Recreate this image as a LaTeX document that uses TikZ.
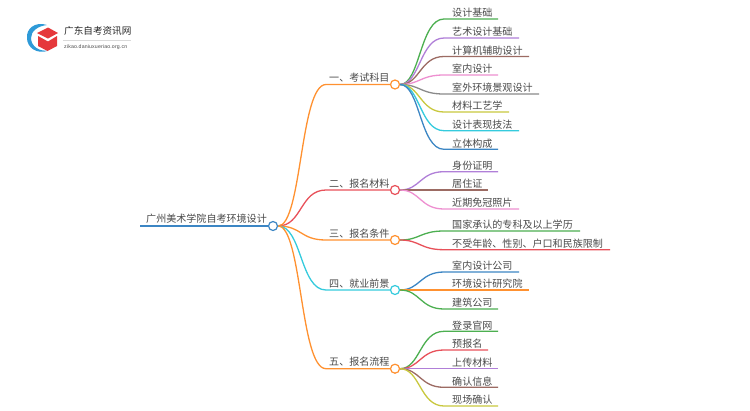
\documentclass[tikz,border=0pt]{standalone}
\usepackage{fontspec}
\setmainfont{Noto Sans CJK SC}
\newfontfamily\latinf[LetterSpace=3]{Liberation Sans}
\definecolor{cgreen}{HTML}{4CAF50}
\definecolor{cpurple}{HTML}{B07FD8}
\definecolor{cbrown}{HTML}{9C6B63}
\definecolor{cpink}{HTML}{EE8FD0}
\definecolor{cgray}{HTML}{8A8A8A}
\definecolor{colive}{HTML}{C9C83E}
\definecolor{ccyan}{HTML}{35CBDD}
\definecolor{cblue}{HTML}{3C86C4}
\definecolor{corange}{HTML}{FF9130}
\definecolor{cred}{HTML}{E8515A}
\definecolor{ctext}{HTML}{4A4A4A}
\definecolor{clogob}{HTML}{2E9AD8}
\definecolor{clogor}{HTML}{E5383B}
\tikzset{
  x=1pt,y=-1pt,
  wire/.style={line width=1.3pt},
  hub/.style={circle,draw=#1,line width=1.2pt,fill=white,inner sep=0pt,minimum size=9pt},
  lab/.style={anchor=base west,inner sep=0pt,text=ctext,font=\fontsize{10.05}{12}\selectfont},
}
% hub, name, hub y, leaf y, end x, colour, text
\newcommand{\leafitem}[7]{%
  \coordinate (#2e) at (#5,#4);
  \node[lab] (#2) at (452,#4-2.3) {#7};
  \draw[wire,#6] (#1.east) .. controls (420,#3) and (420,#4) .. (444,#4) -- (#2e);
}
% name, y, colour, text
\newcommand{\branchitem}[4]{%
  \node[hub=#3] (#1) at (395,#2) {};
  \node[lab] (#1t) at (329,#2-3) {#4};
  \draw[wire,#3] (root.east) .. controls (302,226) and (300,#2) .. (326,#2) -- (#1.west);
}
\begin{document}
\begin{tikzpicture}
\useasboundingbox (0,0) rectangle (750,410);
\fill[white] (0,0) rectangle (750,410);
% logo
\fill[clogob] (47,25) .. controls (35,21) and (26,29) .. (27,38) .. controls (27,47) and (36,55) .. (49,50.5)
  .. controls (39,52) and (31,46) .. (31,38) .. controls (31,31) and (38,26) .. (47,25) -- cycle;
\fill[clogor] (48,27.5) -- (58,33) -- (48,38.5) -- (37,33) -- cycle;
\fill[clogor] (38,36) -- (48,41.5) -- (57,36) -- (57,46) -- (47.5,51) -- (38,46) -- cycle;
\node[anchor=base west,inner sep=0pt,text=black!85,font=\fontsize{9.6}{11}\selectfont] (brand) at (64,34.5) {广东自考资讯网};
\draw[black!15,line width=0.5pt] (63,40.5) -- (131,40.5);
\node[anchor=base west,inner sep=0pt,text=black!70,font=\latinf\fontsize{5.2}{6}\selectfont] (site) at (64,48) {zikao.daniuxueriao.org.cn};
% root
\node[hub=cblue] (root) at (273,226) {};
\coordinate (rootw) at (140,226);
\node[lab] (roott) at (146,222.8) {广州美术学院自考环境设计};
\draw[wire,cblue] (rootw) -- (root.west);
% level 1
\branchitem{a}{84.5}{corange}{一、考试科目}
\branchitem{b}{190}{cred}{二、报名材料}
\branchitem{c}{240}{corange}{三、报名条件}
\branchitem{d}{290}{ccyan}{四、就业前景}
\branchitem{e}{368.7}{corange}{五、报名流程}
% leaves
\leafitem{a}{a1}{84.5}{19}{498}{cgreen}{设计基础}
\leafitem{a}{a2}{84.5}{38}{519}{cpurple}{艺术设计基础}
\leafitem{a}{a3}{84.5}{56.5}{529}{cbrown}{计算机辅助设计}
\leafitem{a}{a4}{84.5}{75}{498}{cpink}{室内设计}
\leafitem{a}{a5}{84.5}{94}{539}{cgray}{室外环境景观设计}
\leafitem{a}{a6}{84.5}{112}{509}{colive}{材料工艺学}
\leafitem{a}{a7}{84.5}{130.7}{519}{ccyan}{设计表现技法}
\leafitem{a}{a8}{84.5}{149.3}{498}{cblue}{立体构成}
\leafitem{b}{b1}{190}{171.7}{498}{cpurple}{身份证明}
\leafitem{b}{b2}{190}{190}{488}{cbrown}{居住证}
\leafitem{b}{b3}{190}{209}{519}{cpink}{近期免冠照片}
\leafitem{c}{c1}{240}{231}{580}{cgreen}{国家承认的专科及以上学历}
\leafitem{c}{c2}{240}{249.7}{610}{cred}{不受年龄、性别、户口和民族限制}
\leafitem{d}{d1}{290}{272}{519}{cblue}{室内设计公司}
\leafitem{d}{d2}{290}{290}{529}{corange}{环境设计研究院}
\leafitem{d}{d3}{290}{309}{498}{cgreen}{建筑公司}
\leafitem{e}{e1}{368.7}{331.3}{498}{cgreen}{登录官网}
\leafitem{e}{e2}{368.7}{350}{488}{cred}{预报名}
\leafitem{e}{e3}{368.7}{368.7}{498}{cpurple}{上传材料}
\leafitem{e}{e4}{368.7}{387.3}{498}{cbrown}{确认信息}
\leafitem{e}{e5}{368.7}{406}{498}{colive}{现场确认}
\end{tikzpicture}
\end{document}
